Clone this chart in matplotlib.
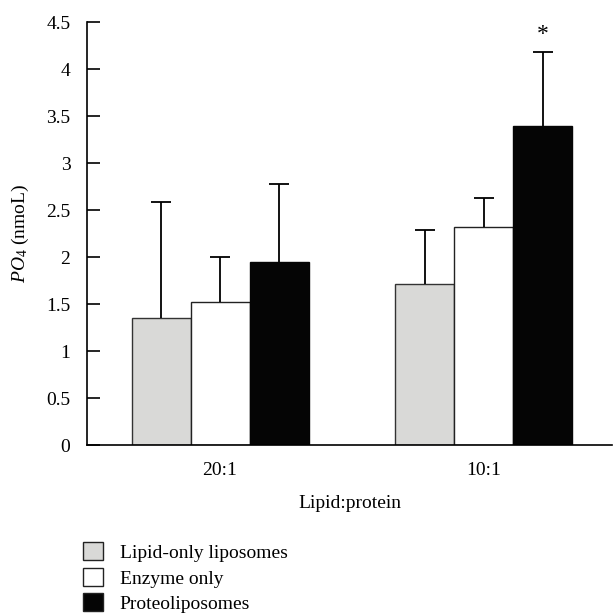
import numpy as np
import matplotlib.pyplot as plt
from matplotlib.patches import Patch

plt.rcParams['font.family'] = ['Liberation Serif', 'DejaVu Serif']
plt.rcParams['mathtext.fontset'] = 'custom'
plt.rcParams['mathtext.it'] = 'Liberation Serif:italic'
plt.rcParams['mathtext.rm'] = 'Liberation Serif'

# ---- data ----
groups = ['20:1', '10:1']
series = ['Lipid-only liposomes', 'Enzyme only', 'Proteoliposomes']
lipid_only = [1.35, 1.71]
enzyme_only = [1.52, 2.32]
proteolipo = [1.95, 3.39]
err_lipid = [1.24, 0.58]
err_enzyme = [0.48, 0.31]
err_proteo = [0.83, 0.79]
colors = ['#d9d9d7', '#ffffff', '#050505']
edges = ['#333333', '#222222', '#050505']

fig = plt.figure(figsize=(6.14, 6.15), dpi=100)
ax = fig.add_axes([0.1417, 0.2764, 0.855, 0.6878])

x = np.arange(len(groups))
w = 0.2235
vals = [lipid_only, enzyme_only, proteolipo]
errs = [err_lipid, err_enzyme, err_proteo]
for i in range(3):
    pos = x + (i - 1) * w
    ax.bar(pos, vals[i], width=w, color=colors[i], edgecolor=edges[i], linewidth=1.0, zorder=2)
    # upper-only error bars: stem + cap at the top
    tops = np.array(vals[i]) + np.array(errs[i])
    ax.vlines(pos, vals[i], tops, color='black', linewidth=1.3, zorder=3)
    ax.plot(pos, tops, linestyle='none', marker='_', markersize=14, markeredgewidth=1.3,
            color='black', zorder=3)

# significance marker
ax.text(x[1] + w, proteolipo[1] + err_proteo[1] + 0.08, '*', ha='center', va='bottom', fontsize=17)

ax.set_xlim(-0.504, 1.485)
ax.set_ylim(0, 4.5)
ax.set_yticks(np.arange(0, 4.51, 0.5))
ax.set_yticklabels(['0', '0.5', '1', '1.5', '2', '2.5', '3', '3.5', '4', '4.5'])
ax.set_xticks(x)
ax.set_xticklabels(groups)
ax.tick_params(axis='y', direction='in', length=9, width=1.2, labelsize=14, pad=12)
ax.tick_params(axis='x', length=0, labelsize=14, pad=12)
ax.spines['top'].set_visible(False)
ax.spines['right'].set_visible(False)
ax.spines['left'].set_linewidth(1.2)
ax.spines['bottom'].set_linewidth(1.2)

ax.set_ylabel(r'$\mathit{PO}_4$ (nmoL)', fontsize=14, labelpad=11)
ax.set_xlabel('Lipid:protein', fontsize=14, labelpad=12)

handles = [Patch(facecolor=colors[i], edgecolor='#222222', linewidth=1.0) for i in range(3)]
fig.legend(handles, series, loc='upper left', bbox_to_anchor=(0.135, 0.118),
           frameon=False, fontsize=14, handlelength=1.05, handleheight=1.05,
           handletextpad=0.85, labelspacing=0.3, borderaxespad=0, borderpad=0)

plt.savefig('out.png', dpi=100)
